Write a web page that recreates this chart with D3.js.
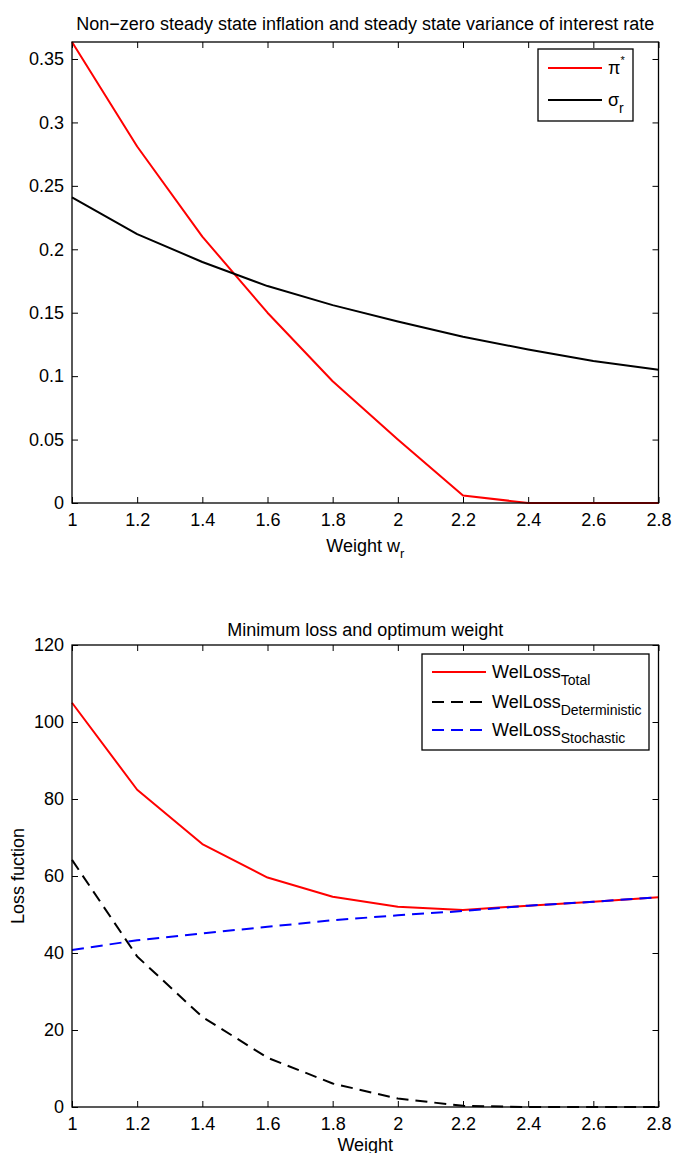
<!DOCTYPE html>
<html><head><meta charset="utf-8">
<script src="https://cdn.jsdelivr.net/npm/d3@7"></script>
<style>
html,body{margin:0;padding:0;background:#fff;}
svg text{font-family:"Liberation Sans",Arial,Helvetica,sans-serif;fill:#000;}
</style></head>
<body>
<svg id="c" width="673" height="1153"></svg>
<script>
// ---- data ----
const weights = [1, 1.2, 1.4, 1.6, 1.8, 2.0, 2.2, 2.4, 2.6, 2.8];
const piStar = [0.3634, 0.281, 0.210, 0.150, 0.096, 0.050, 0.006, 0, 0, 0];
const sigmaR = [0.241, 0.212, 0.190, 0.171, 0.156, 0.143, 0.131, 0.121, 0.112, 0.105];
const lossTotal = [105.0, 82.4, 68.3, 59.6, 54.6, 52.0, 51.2, 52.3, 53.3, 54.5];
const lossDet = [64.2, 39.1, 23.4, 12.8, 6.1, 2.2, 0.3, 0, 0, 0];
const lossStoch = [40.8, 43.3, 45.1, 46.8, 48.5, 49.8, 50.9, 52.3, 53.3, 54.5];
const xTicks = [1, 1.2, 1.4, 1.6, 1.8, 2, 2.2, 2.4, 2.6, 2.8];
const yTicksTop = [0, 0.05, 0.1, 0.15, 0.2, 0.25, 0.3, 0.35];
const yTicksBot = [0, 20, 40, 60, 80, 100, 120];

const svg = d3.select("#c");
const FS = 18;
const L = 72, R = 658.5;

function panel(cfg) {
  const x = d3.scaleLinear().domain([1, 2.8]).range([L, R]);
  const y = d3.scaleLinear().domain(cfg.yDomain).range([cfg.bottom, cfg.top]);
  const g = svg.append("g");
  const tk = 6;
  const fmt = v => String(+v.toFixed(2));
  g.append("g").attr("transform", `translate(0,${cfg.bottom})`)
    .call(d3.axisBottom(x).tickValues(xTicks).tickSizeInner(-tk).tickSizeOuter(0).tickPadding(10).tickFormat(fmt))
    .call(a => { a.select(".domain").remove(); a.selectAll("text").attr("font-size", FS).attr("dy", "0.71em"); });
  g.append("g").attr("transform", `translate(0,${cfg.top})`)
    .call(d3.axisTop(x).tickValues(xTicks).tickSizeInner(-tk).tickSizeOuter(0).tickFormat(""))
    .call(a => a.select(".domain").remove());
  g.append("g").attr("transform", `translate(${L},0)`)
    .call(d3.axisLeft(y).tickValues(cfg.yTicks).tickSizeInner(-tk).tickSizeOuter(0).tickPadding(8).tickFormat(fmt))
    .call(a => { a.select(".domain").remove(); a.selectAll("text").attr("font-size", FS); });
  g.append("g").attr("transform", `translate(${R},0)`)
    .call(d3.axisRight(y).tickValues(cfg.yTicks).tickSizeInner(-tk).tickSizeOuter(0).tickFormat(""))
    .call(a => a.select(".domain").remove());
  g.selectAll(".tick line").attr("stroke", "#000").attr("stroke-width", 1);

  const clipId = "clip" + cfg.top;
  svg.append("clipPath").attr("id", clipId).append("rect")
    .attr("x", L - 2).attr("y", cfg.top - 2).attr("width", R - L + 4).attr("height", cfg.bottom - cfg.top + 4);
  const line = d3.line().x((d, i) => x(weights[i])).y(d => y(d));
  const lg = svg.append("g").attr("clip-path", `url(#${clipId})`);
  cfg.series.forEach(s => {
    lg.append("path").datum(s.values).attr("d", line)
      .attr("fill", "none").attr("stroke", s.color).attr("stroke-width", 2)
      .attr("stroke-dasharray", s.dash || null).attr("stroke-linejoin", "round");
  });
  svg.append("rect").attr("x", L).attr("y", cfg.top).attr("width", R - L).attr("height", cfg.bottom - cfg.top)
    .attr("fill", "none").attr("stroke", "#000").attr("stroke-width", 1.3);

  svg.append("text").attr("x", (L + R) / 2).attr("y", cfg.titleY).attr("text-anchor", "middle")
    .attr("font-size", FS).text(cfg.title);
  const xl = svg.append("text").attr("x", (L + R) / 2).attr("y", cfg.xlabelY).attr("text-anchor", "middle")
    .attr("font-size", FS);
  xl.append("tspan").text(cfg.xlabel);
  if (cfg.xlabelSub) xl.append("tspan").attr("font-size", 13).attr("dy", 6).text(cfg.xlabelSub);
  if (cfg.ylabel) {
    svg.append("text").attr("transform", `translate(${cfg.ylabelX},${(cfg.top + cfg.bottom) / 2}) rotate(-90)`)
      .attr("text-anchor", "middle").attr("font-size", FS).text(cfg.ylabel);
  }
  const lgd = cfg.legend;
  svg.append("rect").attr("x", lgd.x0).attr("y", lgd.y0).attr("width", lgd.x1 - lgd.x0).attr("height", lgd.y1 - lgd.y0)
    .attr("fill", "#fff").attr("stroke", "#000").attr("stroke-width", 1.3);
  lgd.items.forEach((it, i) => {
    const s = cfg.series[i];
    const yy = it.y;
    svg.append("line").attr("x1", lgd.lx0).attr("x2", lgd.lx1).attr("y1", yy).attr("y2", yy)
      .attr("stroke", s.color).attr("stroke-width", 2).attr("stroke-dasharray", s.dash || null);
    const t = svg.append("text").attr("x", lgd.lx1 + 6).attr("y", yy + 6).attr("font-size", FS);
    t.append("tspan").text(it.main);
    if (it.sup) t.append("tspan").attr("font-size", 11).attr("dy", -10).text(it.sup);
    if (it.sub) t.append("tspan").attr("font-size", 14).attr("dy", 7).text(it.sub);
  });
}

panel({
  top: 42, bottom: 503, yDomain: [0, 0.3634], yTicks: yTicksTop,
  title: "Non\u2212zero steady state inflation and steady state variance of interest rate", titleY: 30,
  xlabel: "Weight w", xlabelSub: "r", xlabelY: 552,
  series: [{values: piStar, color: "#ff0000"}, {values: sigmaR, color: "#000"}],
  legend: {x0: 538, x1: 633, y0: 49, y1: 121, lx0: 548, lx1: 602,
    items: [{main: "\u03c0", sup: "*", y: 68}, {main: "\u03c3", sub: "r", y: 100}]}
});

panel({
  top: 645, bottom: 1107, yDomain: [0, 120], yTicks: yTicksBot,
  title: "Minimum loss and optimum weight", titleY: 636,
  xlabel: "Weight", xlabelY: 1151, ylabel: "Loss fuction", ylabelX: 24,
  series: [{values: lossTotal, color: "#ff0000"}, {values: lossDet, color: "#000", dash: "12,7"},
           {values: lossStoch, color: "#0000ff", dash: "12,7"}],
  legend: {x0: 422, x1: 649, y0: 654, y1: 750, lx0: 432, lx1: 486,
    items: [{main: "WelLoss", sub: "Total", y: 672}, {main: "WelLoss", sub: "Deterministic", y: 702},
            {main: "WelLoss", sub: "Stochastic", y: 730}]}
});
</script>
</body></html>
